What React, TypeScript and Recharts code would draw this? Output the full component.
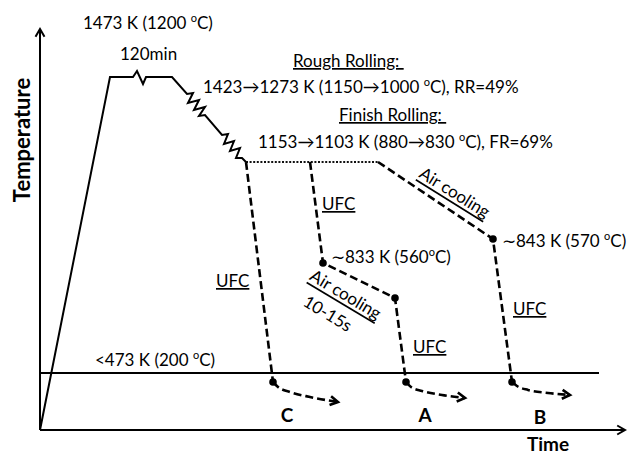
import React from 'react';
import { ComposedChart, Line, XAxis, YAxis } from 'recharts';

type Pt = { t: number; v: number; mark?: boolean };

// Schematic time (t) / temperature level (v) units
const timeAxis: Pt[] = [{ t: 0, v: 0 }, { t: 585, v: 0 }];
const tempAxis: Pt[] = [{ t: 0, v: 0 }, { t: 0, v: 401 }];
const coolLimit: Pt[] = [{ t: 0, v: 57 }, { t: 559, v: 57 }];

// Reheating, soaking (120 min) and the two rolling stages
const reheatRolling: Pt[] = [
  { t: 0, v: 0 }, { t: 70, v: 353 }, { t: 93, v: 353 }, { t: 97, v: 359 },
  { t: 103, v: 346 }, { t: 106, v: 353 }, { t: 132, v: 353 },
  { t: 147, v: 336 }, { t: 153, v: 337 }, { t: 148, v: 327 }, { t: 159, v: 330 },
  { t: 154, v: 320 }, { t: 165, v: 323 }, { t: 159, v: 314 }, { t: 165, v: 315 },
  { t: 182, v: 295 }, { t: 188, v: 296 }, { t: 184, v: 286 }, { t: 194, v: 289 },
  { t: 190, v: 279 }, { t: 200, v: 282 }, { t: 196, v: 272 }, { t: 202, v: 272 },
  { t: 206, v: 268 },
];
const holdLine: Pt[] = [{ t: 206, v: 268 }, { t: 338, v: 268 }];

// Cooling routes
const routeC: Pt[] = [{ t: 206, v: 268 }, { t: 233, v: 48, mark: true }];
const routeA: Pt[] = [
  { t: 270, v: 268 }, { t: 283, v: 167, mark: true },
  { t: 355, v: 132, mark: true }, { t: 366, v: 48, mark: true },
];
const routeB: Pt[] = [
  { t: 338, v: 268 }, { t: 453, v: 191, mark: true }, { t: 472, v: 48, mark: true },
];
const tailC: Pt[] = [{ t: 233, v: 48 }, { t: 238, v: 43 }, { t: 250, v: 38 }, { t: 270, v: 33 }, { t: 298, v: 28 }];
const tailA: Pt[] = [{ t: 366, v: 48 }, { t: 371, v: 43 }, { t: 382, v: 39 }, { t: 402, v: 35 }, { t: 425, v: 32 }];
const tailB: Pt[] = [{ t: 472, v: 48 }, { t: 477, v: 44 }, { t: 488, v: 40 }, { t: 508, v: 37 }, { t: 530, v: 35 }];

const FONT = 'Lato, "Open Sans", sans-serif';
const W = 641;
const H = 453;

const markDot = (props: any) => {
  const { cx, cy, payload, index } = props;
  if (payload && payload.mark) {
    return <circle key={`m-${index}`} cx={cx} cy={cy} r={3.8} fill="#000" stroke="none" />;
  }
  return <g key={`n-${index}`} />;
};

const arrowDot = (arm: number, width: number) => (props: any) => {
  const { cx, cy, index, points } = props;
  if (!points || index !== points.length - 1 || index < 1) return <g key={`a-${index}`} />;
  const prev = points[index - 1];
  const ang = Math.atan2(cy - prev.y, cx - prev.x);
  const spread = (30 * Math.PI) / 180;
  const x1 = cx - arm * Math.cos(ang - spread);
  const y1 = cy - arm * Math.sin(ang - spread);
  const x2 = cx - arm * Math.cos(ang + spread);
  const y2 = cy - arm * Math.sin(ang + spread);
  return (
    <path
      key={`a-${index}`}
      d={`M${x1},${y1}L${cx},${cy}L${x2},${y2}`}
      fill="none"
      stroke="#000"
      strokeWidth={width}
      strokeLinejoin="miter"
      strokeLinecap="butt"
    />
  );
};

const Sup = ({ gap = true }: { gap?: boolean }) => (
  <>
    {gap ? ' ' : ''}
    <tspan fontSize={11} dy={-7}>o</tspan>
    <tspan dy={7}>C</tspan>
  </>
);

const Annotations = () => (
  <svg
    width={W}
    height={H}
    style={{ position: 'absolute', left: 0, top: 0, pointerEvents: 'none' }}
    fontFamily={FONT}
    fontSize={17}
    fill="#000"
  >
    <text x={83} y={29}>1473 K (1200<Sup />)</text>
    <text x={120} y={60}>120min</text>
    <text x={293} y={67} style={{ textDecoration: 'underline' }}>Rough Rolling:&#160;</text>
    <text x={203} y={93}>1423→1273 K (1150→1000<Sup />), RR=49%</text>
    <text x={339} y={121} style={{ textDecoration: 'underline' }}>Finish Rolling:&#160;</text>
    <text x={258} y={148}>1153→1103 K (880→830<Sup />), FR=69%</text>

    <text x={322} y={210} style={{ textDecoration: 'underline' }}>UFC</text>
    <text x={331} y={263}>∼833 K (560<Sup gap={false} />)</text>
    <text x={502} y={247}>∼843 K (570<Sup />)</text>
    <text x={216} y={287} style={{ textDecoration: 'underline' }}>UFC</text>
    <text x={413} y={353} style={{ textDecoration: 'underline' }}>UFC</text>
    <text x={513} y={315} style={{ textDecoration: 'underline' }}>UFC</text>
    <text x={95} y={366}>&lt;473 K (200<Sup />)</text>

    <text x={455} y={192} textAnchor="middle" dominantBaseline="central"
      transform="rotate(32 455 192)" style={{ textDecoration: 'underline' }}>Air cooling</text>
    <text x={346} y={294} textAnchor="middle" dominantBaseline="central"
      transform="rotate(31 346 294)" style={{ textDecoration: 'underline' }}>Air cooling</text>
    <text x={328} y={313} textAnchor="middle" dominantBaseline="central"
      transform="rotate(31 328 313)">10-15s</text>

    <g fontWeight="bold" fontSize={19}>
      <text x={287} y={414} textAnchor="middle" dominantBaseline="central">C</text>
      <text x={425} y={414} textAnchor="middle" dominantBaseline="central">A</text>
      <text x={540} y={416} textAnchor="middle" dominantBaseline="central">B</text>
      <text x={548} y={443} textAnchor="middle" dominantBaseline="central">Time</text>
      <text x={21} y={140} textAnchor="middle" dominantBaseline="central" fontSize={22}
        transform="rotate(-90 21 140)">Temperature</text>
    </g>
  </svg>
);

export default function App() {
  const dash = '8 4';
  return (
    <div style={{ position: 'absolute', left: 0, top: 0, width: W, height: H, background: '#fff' }}>
      <ComposedChart width={W} height={H} margin={{ top: 29, right: 16, bottom: 23, left: 40 }}>
        <XAxis type="number" dataKey="t" domain={[0, 585]} hide />
        <YAxis type="number" dataKey="v" domain={[0, 401]} hide />

        <Line data={timeAxis} dataKey="v" stroke="#000" strokeWidth={2} dot={arrowDot(9, 2)}
          activeDot={false} isAnimationActive={false} legendType="none" />
        <Line data={tempAxis} dataKey="v" stroke="#000" strokeWidth={2} dot={arrowDot(9, 2)}
          activeDot={false} isAnimationActive={false} legendType="none" />
        <Line data={coolLimit} dataKey="v" stroke="#000" strokeWidth={2} dot={false}
          activeDot={false} isAnimationActive={false} legendType="none" />

        <Line data={reheatRolling} dataKey="v" stroke="#000" strokeWidth={2} dot={false}
          activeDot={false} isAnimationActive={false} legendType="none" strokeLinejoin="miter" />
        <Line data={holdLine} dataKey="v" stroke="#111" strokeWidth={2} strokeDasharray="2 1.6"
          dot={false} activeDot={false} isAnimationActive={false} legendType="none" />

        <Line data={routeC} dataKey="v" stroke="#000" strokeWidth={2.6} strokeDasharray={dash}
          dot={markDot} activeDot={false} isAnimationActive={false} legendType="none" />
        <Line data={routeA} dataKey="v" stroke="#000" strokeWidth={2.6} strokeDasharray={dash}
          dot={markDot} activeDot={false} isAnimationActive={false} legendType="none" />
        <Line data={routeB} dataKey="v" stroke="#000" strokeWidth={2.6} strokeDasharray={dash}
          dot={markDot} activeDot={false} isAnimationActive={false} legendType="none" />

        <Line data={tailC} dataKey="v" type="monotone" stroke="#000" strokeWidth={2.6} strokeDasharray={dash}
          dot={arrowDot(9, 2.6)} activeDot={false} isAnimationActive={false} legendType="none" />
        <Line data={tailA} dataKey="v" type="monotone" stroke="#000" strokeWidth={2.6} strokeDasharray={dash}
          dot={arrowDot(9, 2.6)} activeDot={false} isAnimationActive={false} legendType="none" />
        <Line data={tailB} dataKey="v" type="monotone" stroke="#000" strokeWidth={2.6} strokeDasharray={dash}
          dot={arrowDot(9, 2.6)} activeDot={false} isAnimationActive={false} legendType="none" />
      </ComposedChart>
      <Annotations />
    </div>
  );
}
